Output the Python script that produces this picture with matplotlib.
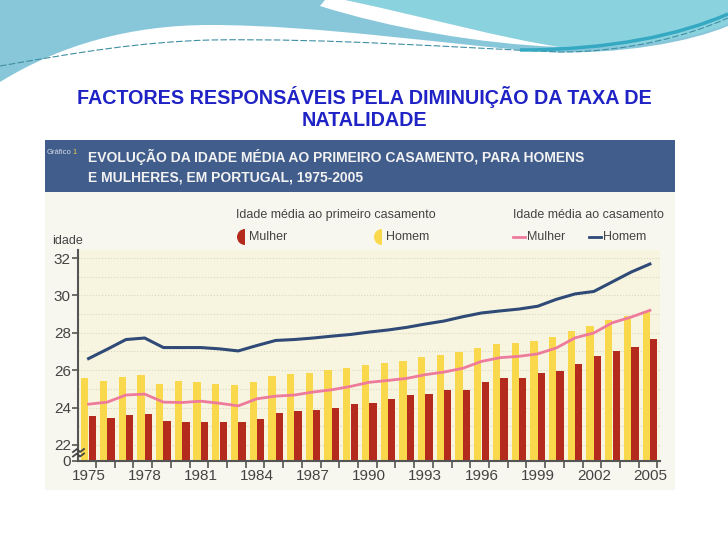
"""Idade média ao casamento em Portugal, 1975-2005 (slide recreation)."""
import numpy as np
import matplotlib
matplotlib.use("Agg")
import matplotlib.pyplot as plt
from matplotlib.patches import Rectangle, Wedge, PathPatch
from matplotlib.path import Path

# --- data -------------------------------------------------------------
years = list(range(1975, 2006))
# idade média ao primeiro casamento (barras)
primeiro_mulher = [23.57, 23.45, 23.61, 23.64, 23.30, 23.23, 23.23, 23.23, 23.21, 23.41,
                   23.70, 23.79, 23.88, 24.00, 24.20, 24.25, 24.45, 24.67, 24.75, 24.95,
                   24.95, 25.36, 25.56, 25.56, 25.85, 25.97, 26.35, 26.76, 27.05, 27.25,
                   27.66]
primeiro_homem = [25.59, 25.43, 25.62, 25.73, 25.28, 25.43, 25.37, 25.25, 25.18, 25.39,
                  25.70, 25.78, 25.87, 26.00, 26.14, 26.30, 26.39, 26.50, 26.72, 26.81,
                  26.97, 27.17, 27.38, 27.47, 27.58, 27.77, 28.10, 28.37, 28.69, 28.90,
                  29.14]
# idade média ao casamento (linhas)
casamento_mulher = [24.18, 24.29, 24.67, 24.72, 24.29, 24.27, 24.34, 24.23, 24.09, 24.47,
                    24.61, 24.67, 24.83, 24.95, 25.13, 25.35, 25.45, 25.56, 25.76, 25.90,
                    26.10, 26.47, 26.67, 26.74, 26.87, 27.19, 27.73, 27.99, 28.54, 28.84,
                    29.20]
casamento_homem = [26.62, 27.12, 27.64, 27.72, 27.21, 27.21, 27.21, 27.14, 27.03, 27.32,
                   27.59, 27.64, 27.72, 27.82, 27.91, 28.04, 28.15, 28.29, 28.47, 28.63,
                   28.86, 29.06, 29.17, 29.27, 29.42, 29.79, 30.08, 30.21, 30.73, 31.25,
                   31.68]
year_labels = list(range(1975, 2006, 3))
y_tick_values = [22, 24, 26, 28, 30, 32]

ZERO = 21.14  # where "0" sits on the broken axis

FONT = "Liberation Sans"
TITLE_BLUE = "#1f22c4"
C_RED = "#b42a1c"
C_YEL = "#f9d84c"
C_PINK = "#ee7b9c"
C_BLUE = "#2f4a77"

fig = plt.figure(figsize=(7.28, 5.46), dpi=100)
fig.patch.set_facecolor("white")

# background axes in pixel coordinates (y down)
bg = fig.add_axes([0, 0, 1, 1], zorder=0)
bg.set_xlim(0, 728)
bg.set_ylim(546, 0)
bg.axis("off")

# slide decoration: waves at the top
M, L, C = Path.MOVETO, Path.LINETO, Path.CURVE4
left_wave = Path([(0, 0), (0, 82), (60, 45), (130, 25), (210, 25),
                  (320, 25), (450, 45), (545, 52),
                  (620, 55), (690, 42), (728, 26), (728, 0), (0, 0)],
                 [M, L, C, C, C, C, C, C, C, C, C, L, L])
bg.add_patch(PathPatch(left_wave, facecolor="#88c7da", edgecolor="none"))
right_wave = Path([(345, 0), (430, 18), (500, 38), (560, 47),
                   (620, 50), (690, 40), (728, 24), (728, 0), (345, 0)],
                  [M, C, C, C, C, C, C, L, L])
bg.add_patch(PathPatch(right_wave, facecolor="#8bd2df", edgecolor="none"))
swoosh = Path([(325, 0), (345, 0), (430, 18), (500, 38), (560, 47),
               (480, 44), (390, 28), (320, 6), (325, 0)],
              [M, L, C, C, C, C, C, C, L])
bg.add_patch(PathPatch(swoosh, facecolor="white", edgecolor="none"))
thin = Path([(0, 66), (80, 52), (140, 42), (210, 40),
             (330, 38), (460, 48), (560, 52),
             (630, 52), (690, 35), (728, 18)],
            [M, C, C, C, C, C, C, C, C, C])
bg.add_patch(PathPatch(thin, facecolor="none", edgecolor="#3f8fa3", lw=0.8, ls=(0, (6, 2))))
accent = Path([(520, 50), (610, 50), (680, 35), (728, 14)], [M, C, C, C])
bg.add_patch(PathPatch(accent, facecolor="none", edgecolor="#35a8c2", lw=2.5))

# slide title
bg.text(364, 97, "FACTORES RESPONSÁVEIS PELA DIMINUIÇÃO DA TAXA DE", ha="center", va="center",
        fontsize=14.2, fontweight="bold", color=TITLE_BLUE, family=FONT)
bg.text(364, 121, "NATALIDADE", ha="center", va="center",
        fontsize=14.2, fontweight="bold", color=TITLE_BLUE, family=FONT)

# scanned chart frame
bg.add_patch(Rectangle((45, 140), 630, 52, facecolor="#415d8c", edgecolor="none"))
bg.add_patch(Rectangle((45, 192), 630, 298, facecolor="#f8f7ef", edgecolor="none"))
bg.text(47, 152, "Gráfico", fontsize=5.5, color="#d5dbe6", va="center", family=FONT)
bg.text(72, 152, "1", fontsize=5.5, color="#e8c84a", va="center", family=FONT)
bg.text(88, 157, "EVOLUÇÃO DA IDADE MÉDIA AO PRIMEIRO CASAMENTO, PARA HOMENS",
        fontsize=10, fontweight="bold", color="#f2f2f2", va="center", family=FONT)
bg.text(88, 177, "E MULHERES, EM PORTUGAL, 1975-2005",
        fontsize=10, fontweight="bold", color="#f2f2f2", va="center", family=FONT)

# legend
leg_kw = dict(fontsize=9, color="#444444", va="center", family=FONT)
bg.text(236, 215, "Idade média ao primeiro casamento", **leg_kw)
bg.text(513, 215, "Idade média ao casamento", **leg_kw)
bg.add_patch(Wedge((245, 237), 8, 90, 270, facecolor=C_RED, edgecolor="none"))
bg.text(249, 237, "Mulher", **leg_kw)
bg.add_patch(Wedge((382, 237), 8, 90, 270, facecolor=C_YEL, edgecolor="none"))
bg.text(386, 237, "Homem", **leg_kw)
bg.plot([513, 525], [237, 237], color=C_PINK, lw=2)
bg.text(527, 237, "Mulher", **leg_kw)
bg.plot([589, 601], [237, 237], color=C_BLUE, lw=2)
bg.text(603, 237, "Homem", **leg_kw)
bg.text(52, 241, "idade", **leg_kw)

# main chart
ax = fig.add_axes([77.7 / 728, 1 - 461 / 546, (660 - 77.7) / 728, (461 - 250) / 546], zorder=2)
ax.set_facecolor("#f7f5df")
ax.set_xlim(1974.42, 2005.54)
ax.set_ylim(ZERO, 32.43)

x = np.array(years)
bw = 0.39
ax.bar(x - 0.2, np.array(primeiro_homem) - ZERO, bottom=ZERO, width=bw, color=C_YEL, zorder=2)
ax.bar(x + 0.2, np.array(primeiro_mulher) - ZERO, bottom=ZERO, width=bw, color=C_RED, zorder=2)
ax.plot(x, casamento_mulher, color=C_PINK, lw=2, zorder=3)
ax.plot(x, casamento_homem, color=C_BLUE, lw=2.2, zorder=3)

for v in np.arange(22, 33, 1):
    ax.axhline(v, color="#d9d6c2", lw=0.8, ls=":", zorder=1)

ax.set_yticks([ZERO] + y_tick_values)
ax.set_yticklabels(["0"] + [str(v) for v in y_tick_values])
# labels centred on each year's pair of bars, ticks on the group boundaries
ax.set_xticks(year_labels)
ax.set_xticklabels([str(y) for y in year_labels])
ax.set_xticks(x + 0.4, minor=True)
ax.tick_params(axis="both", which="both", colors="#555555", labelcolor="#444444",
               labelsize=11, direction="out", width=1.2)
ax.tick_params(axis="y", length=4, pad=1)
ax.tick_params(axis="x", which="major", length=0, pad=6)
ax.tick_params(axis="x", which="minor", length=5)
for lbl in ax.get_xticklabels() + ax.get_yticklabels():
    lbl.set_family(FONT)
for side in ["top", "right"]:
    ax.spines[side].set_visible(False)
for side in ["left", "bottom"]:
    ax.spines[side].set_color("#555555")
    ax.spines[side].set_linewidth(1.5)

# axis break marks
for yy in (450.5, 455.0):
    zx = np.array([73, 77, 80, 84])
    zy = np.array([yy + 1.5, yy - 1.5, yy + 1.5, yy - 1.5])
    ax.plot(zx, zy, color="#444444", lw=1.3, transform=bg.transData, clip_on=False, zorder=5)

fig.savefig("out.png", dpi=100)
